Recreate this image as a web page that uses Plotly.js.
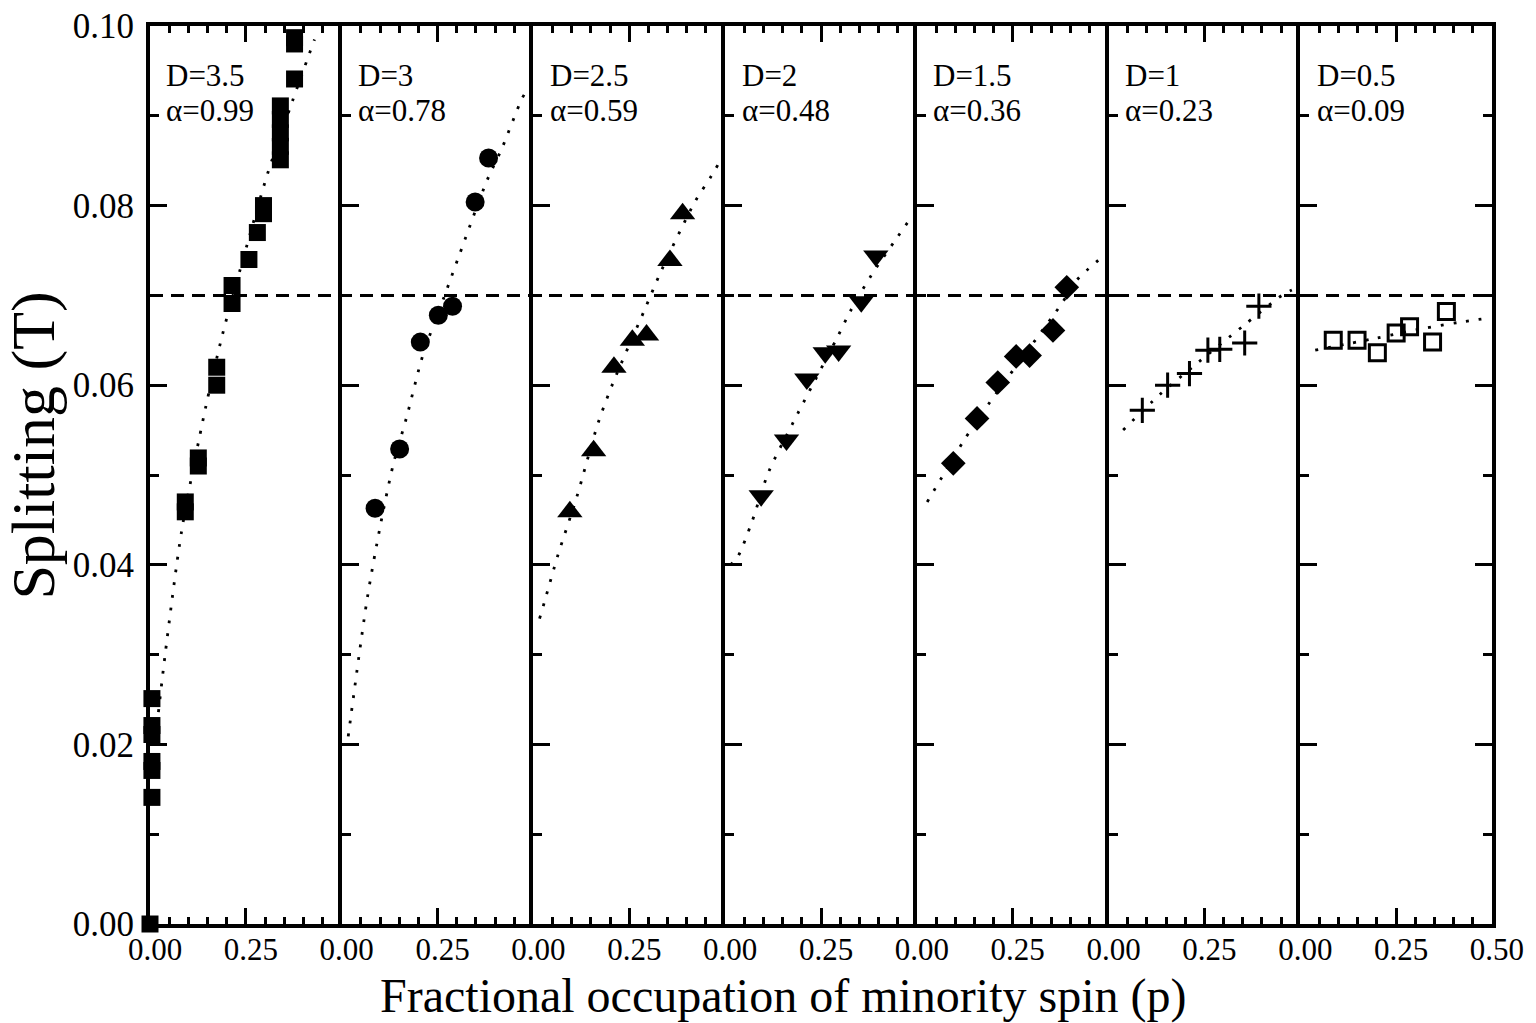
<!DOCTYPE html>
<html>
<head>
<meta charset="utf-8">
<script src="https://cdn.plot.ly/plotly-3.0.1.min.js"></script>
<style>
  html, body { margin: 0; padding: 0; background: #fff; }
  #chart { width: 1536px; height: 1023px; }
</style>
</head>
<body>
<div id="chart"></div>
<script>
// Panel labels: disorder D and fitted exponent alpha
const panelD = ['3.5', '3', '2.5', '2', '1.5', '1', '0.5'];
const panelAlpha = ['0.99', '0.78', '0.59', '0.48', '0.36', '0.23', '0.09'];

// Measured splitting (T) vs fractional occupation of minority spin p
const pD35 = [0, 0.005, 0.005, 0.005, 0.005, 0.005, 0.005, 0.092, 0.092, 0.126, 0.126, 0.174, 0.174, 0.214, 0.214, 0.258, 0.280, 0.296, 0.296, 0.340, 0.340, 0.340, 0.340, 0.340, 0.377, 0.377, 0.377];
const sD35 = [0, 0.0141, 0.0171, 0.0181, 0.0211, 0.0221, 0.0251, 0.0459, 0.0470, 0.0510, 0.0519, 0.0600, 0.0620, 0.0691, 0.0711, 0.0740, 0.0770, 0.0791, 0.0800, 0.0851, 0.0866, 0.0881, 0.0896, 0.0911, 0.0941, 0.0980, 0.0987];
const pD3 = [0.087, 0.151, 0.205, 0.252, 0.289, 0.348, 0.383];
const sD3 = [0.0463, 0.0529, 0.0648, 0.0678, 0.0688, 0.0804, 0.0853];
const pD25 = [0.095, 0.157, 0.210, 0.258, 0.295, 0.356, 0.389];
const sD25 = [0.0459, 0.0527, 0.0620, 0.0650, 0.0656, 0.0739, 0.0791];
const pD2 = [0.094, 0.160, 0.213, 0.261, 0.296, 0.355, 0.393];
const sD2 = [0.0477, 0.0539, 0.0607, 0.0636, 0.0638, 0.0693, 0.0744];
const pD15 = [0.095, 0.157, 0.211, 0.259, 0.294, 0.355, 0.391];
const sD15 = [0.0513, 0.0563, 0.0603, 0.0632, 0.0633, 0.0661, 0.0709];
const pD1 = [0.088, 0.154, 0.211, 0.259, 0.290, 0.355, 0.392];
const sD1 = [0.0572, 0.0600, 0.0613, 0.0639, 0.0640, 0.0647, 0.0688];
const pD05 = [0.086, 0.148, 0.201, 0.250, 0.285, 0.345, 0.381];
const sD05 = [0.0650, 0.0650, 0.0636, 0.0658, 0.0665, 0.0648, 0.0682];

// Fitted curves (dotted)
const fitPD35 = [0.022, 0.040, 0.083, 0.145, 0.190, 0.251, 0.307, 0.372, 0.429];
const fitSD35 = [0.0236, 0.0302, 0.0439, 0.0575, 0.0658, 0.0753, 0.0836, 0.0917, 0.0985];
const fitPD3 = [0.017, 0.066, 0.100, 0.134, 0.169, 0.212, 0.266, 0.305, 0.379, 0.418, 0.470, 0.484];
const fitSD3 = [0.0209, 0.0361, 0.0442, 0.0511, 0.0564, 0.0634, 0.0697, 0.0743, 0.0828, 0.0864, 0.0919, 0.0929];
const fitPD25 = [0.016, 0.029, 0.064, 0.112, 0.168, 0.207, 0.290, 0.334, 0.421, 0.464, 0.482];
const fitSD25 = [0.0340, 0.0359, 0.0411, 0.0474, 0.0557, 0.0602, 0.0684, 0.0728, 0.0804, 0.0833, 0.0846];
const fitPD2 = [0.014, 0.033, 0.070, 0.113, 0.178, 0.291, 0.326, 0.382, 0.443, 0.487];
const fitSD2 = [0.0400, 0.0409, 0.0448, 0.0503, 0.0559, 0.0652, 0.0682, 0.0723, 0.0761, 0.0788];
const fitPD15 = [0.027, 0.066, 0.122, 0.187, 0.378, 0.417, 0.487];
const fitSD15 = [0.0470, 0.0498, 0.0538, 0.0579, 0.0691, 0.0717, 0.0744];
const fitPD1 = [0.038, 0.132, 0.224, 0.351, 0.452, 0.478];
const fitSD1 = [0.0550, 0.0589, 0.0622, 0.0666, 0.0700, 0.0706];
const fitPD05 = [0.039, 0.194, 0.319, 0.414, 0.478];
const fitSD05 = [0.0639, 0.0652, 0.0663, 0.0670, 0.0674];

// Horizontal reference level (T)
const refLevel = 0.07;

const xTickVals = [0, 0.25];
const xTickValsLast = [0, 0.25, 0.5];
const yTickVals = [0, 0.02, 0.04, 0.06, 0.08, 0.10];

const FONT = 'Liberation Serif, Times New Roman, serif';

const panels = [
  {p: pD35, s: sD35, fp: fitPD35, fs: fitSD35, sym: 'square', size: 17, open: false},
  {p: pD3, s: sD3, fp: fitPD3, fs: fitSD3, sym: 'circle', size: 19, open: false},
  {p: pD25, s: sD25, fp: fitPD25, fs: fitSD25, sym: 'triangle-up', size: 22, open: false},
  {p: pD2, s: sD2, fp: fitPD2, fs: fitSD2, sym: 'triangle-down', size: 22, open: false},
  {p: pD15, s: sD15, fp: fitPD15, fs: fitSD15, sym: 'diamond', size: 19, open: false},
  {p: pD1, s: sD1, fp: fitPD1, fs: fitSD1, sym: 'cross-thin', size: 18, open: true},
  {p: pD05, s: sD05, fp: fitPD05, fs: fitSD05, sym: 'square-open', size: 16, open: true}
];

const traces = [];
const layout = {
  width: 1536, height: 1023,
  margin: {l: 150, r: 44, t: 26, b: 99},
  paper_bgcolor: '#fff', plot_bgcolor: '#fff',
  showlegend: false,
  font: {family: FONT, color: '#000'},
  shapes: [],
  annotations: []
};

const n = panels.length;
panels.forEach((pn, i) => {
  const xa = i === 0 ? 'x' : 'x' + (i + 1);
  const ya = i === 0 ? 'y' : 'y' + (i + 1);
  const xKey = i === 0 ? 'xaxis' : 'xaxis' + (i + 1);
  const yKey = i === 0 ? 'yaxis' : 'yaxis' + (i + 1);
  const last = i === n - 1;
  const tv = last ? xTickValsLast : xTickVals;

  layout[xKey] = {
    domain: [i / n, (i + 1) / n],
    range: [0, 0.5],
    anchor: ya,
    showgrid: false, zeroline: false,
    showline: true, linecolor: '#000', linewidth: 4,
    mirror: 'allticks',
    ticks: 'inside', ticklen: 16, tickwidth: 3, tickcolor: '#000',
    tickmode: 'array', tickvals: tv, ticktext: tv.map(v => v.toFixed(2)),
    tickfont: {family: FONT, size: 31, color: '#000'},
    ticklabelstandoff: -5,
    ticklabelshift: 5,
    minor: {tickmode: 'linear', tick0: 0, dtick: 0.05, ticks: 'inside', ticklen: 7, tickwidth: 3, tickcolor: '#000'},
    layer: 'below traces',
    fixedrange: true
  };
  layout[yKey] = {
    domain: [0, 1],
    range: [0, 0.1],
    anchor: xa,
    showgrid: false, zeroline: false,
    showline: true, linecolor: '#000', linewidth: 4,
    mirror: last ? 'allticks' : false,
    ticks: 'inside', ticklen: 17, tickwidth: 3, tickcolor: '#000',
    tickmode: 'array', tickvals: yTickVals, ticktext: yTickVals.map(v => v.toFixed(2)),
    showticklabels: i === 0,
    tickfont: {family: FONT, size: 35, color: '#000'},
    ticklabelstandoff: 5,
    minor: {tickmode: 'linear', tick0: 0, dtick: 0.01, ticks: 'inside', ticklen: 9, tickwidth: 3, tickcolor: '#000'},
    layer: 'below traces',
    fixedrange: true
  };

  // fitted curve
  traces.push({
    type: 'scatter', mode: 'lines', x: pn.fp, y: pn.fs, xaxis: xa, yaxis: ya,
    line: {color: '#000', width: 2.8, dash: '2.8px,10px', shape: 'spline', smoothing: 0.8},
    hoverinfo: 'skip', cliponaxis: true
  });
  // measured points
  traces.push({
    type: 'scatter', mode: 'markers', x: pn.p, y: pn.s, xaxis: xa, yaxis: ya,
    marker: {
      symbol: pn.sym, size: pn.size, color: '#000',
      line: {color: '#000', width: pn.open ? 3 : 0}
    },
    cliponaxis: false
  });

  // panel label
  layout.annotations.push({
    xref: xa + ' domain', yref: 'paper', x: 0.075, y: 0.945,
    xanchor: 'left', yanchor: 'middle', showarrow: false,
    text: 'D=' + panelD[i], font: {family: FONT, size: 31, color: '#000'}
  });
  layout.annotations.push({
    xref: xa + ' domain', yref: 'paper', x: 0.075, y: 0.906,
    xanchor: 'left', yanchor: 'middle', showarrow: false,
    text: 'α=' + panelAlpha[i], font: {family: FONT, size: 31, color: '#000'}
  });
});

// dashed reference level across all panels
layout.shapes.push({
  type: 'line', xref: 'paper', yref: 'y', x0: 0, x1: 1, y0: refLevel, y1: refLevel,
  line: {color: '#000', width: 3, dash: '13px,8px'}, layer: 'above'
});

// axis titles
layout.annotations.push({
  xref: 'paper', yref: 'paper', x: 0.4715, y: -0.08, xanchor: 'center', yanchor: 'middle',
  showarrow: false, text: 'Fractional occupation of minority spin (p)',
  font: {family: FONT, size: 48, color: '#000'}
});
layout.annotations.push({
  xref: 'paper', yref: 'paper', x: -0.087, y: 0.533, xanchor: 'center', yanchor: 'middle',
  showarrow: false, textangle: -90, text: 'Splitting (T)',
  font: {family: FONT, size: 62, color: '#000'}
});

Plotly.newPlot('chart', traces, layout, {staticPlot: true, displayModeBar: false});
</script>
</body>
</html>
